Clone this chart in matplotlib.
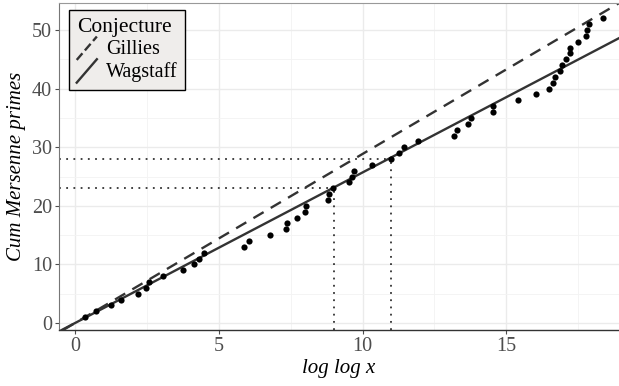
import matplotlib
matplotlib.use('Agg')
import matplotlib.pyplot as plt
from matplotlib.lines import Line2D
from matplotlib.legend_handler import HandlerBase

plt.rcParams['font.family'] = ['Liberation Serif', 'DejaVu Serif']

# log log of each Mersenne prime (x) and cumulative count (y)
loglog_x = [0.33, 0.73, 1.24, 1.58, 2.20, 2.47, 2.58, 3.07, 3.74, 4.12,
            4.31, 4.48, 5.89, 6.04, 6.79, 7.33, 7.37, 7.71, 7.99, 8.03,
            8.81, 8.84, 8.96, 9.53, 9.62, 9.69, 10.34, 11.00, 11.25, 11.43,
            11.92, 13.17, 13.30, 13.68, 13.78, 14.54, 14.55, 15.39, 16.05, 16.49,
            16.63, 16.71, 16.86, 16.93, 17.06, 17.20, 17.21, 17.51, 17.76, 17.80,
            17.86, 18.36]
cum_count = list(range(1, len(loglog_x) + 1))

wagstaff_slope = 2.5695   # e^gamma / ln 2
gillies_slope = 2.8854    # 2 / ln 2

ref_x = [9, 11]
ref_y = [23, 28]

xlim = (-0.56, 18.92)
ylim = (-1.2, 54.6)
dark = '#333333'


class DiagonalHandler(HandlerBase):
    def create_artists(self, legend, orig_handle, xdescent, ydescent,
                       width, height, fontsize, trans):
        x0, y0 = -xdescent, -ydescent
        ln = Line2D([x0, x0 + width],
                    [y0 - 0.25 * height, y0 + 1.15 * height],
                    color=orig_handle.get_color(),
                    linestyle=orig_handle.get_linestyle(),
                    linewidth=orig_handle.get_linewidth(),
                    transform=trans)
        return [ln]


fig = plt.figure(figsize=(6.19, 3.86), dpi=100)
ax = fig.add_axes([0.0953, 0.145, 0.9047, 0.847])

ax.set_xlim(*xlim)
ax.set_ylim(*ylim)

ax.set_xticks([0, 5, 10, 15])
ax.set_xticks([2.5, 7.5, 12.5, 17.5], minor=True)
ax.set_yticks([0, 10, 20, 30, 40, 50])
ax.set_yticks([5, 15, 25, 35, 45], minor=True)
ax.grid(True, which='major', color='#ebebeb', linewidth=1.0)
ax.grid(True, which='minor', color='#f3f3f3', linewidth=0.6)
ax.set_axisbelow(True)

for xv, yv in zip(ref_x, ref_y):
    ax.plot([xlim[0], xv], [yv, yv], linestyle=(0, (1, 3)), color=dark, linewidth=1.3)
    ax.plot([xv, xv], [ylim[0], yv], linestyle=(0, (1, 3)), color=dark, linewidth=1.3)

g = ax.axline((0, 0), slope=gillies_slope, color=dark, linestyle=(0, (5, 3.5)),
              linewidth=1.7, label='Gillies')
w = ax.axline((0, 0), slope=wagstaff_slope, color=dark, linestyle='-',
              linewidth=1.7, label='Wagstaff')

ax.scatter(loglog_x, cum_count, s=20, color='black', zorder=3, linewidths=0)

ax.set_xlabel('log log x', fontsize=15, style='italic', labelpad=2)
ax.set_ylabel('Cum Mersenne primes', fontsize=15, style='italic', labelpad=4)

ax.tick_params(axis='both', which='major', labelsize=14.5, colors='#4d4d4d',
               length=3, width=0.8, pad=2)
ax.tick_params(axis='both', which='minor', length=0)

ax.spines['right'].set_visible(False)
ax.spines['top'].set_color('#999999')
ax.spines['left'].set_color('#777777')
ax.spines['bottom'].set_color('#333333')
ax.spines['bottom'].set_linewidth(1.0)

leg = ax.legend(handles=[g, w], title='Conjecture', loc='upper left',
                bbox_to_anchor=(0.018, 0.979), fontsize=14.5, title_fontsize=15.5,
                handler_map={Line2D: DiagonalHandler()},
                handlelength=1.0, handleheight=0.9, handletextpad=0.45,
                labelspacing=0.12, borderpad=0.38, borderaxespad=0,
                fancybox=False, framealpha=1, edgecolor='black',
                facecolor='#efedeb')
leg.get_frame().set_linewidth(1.0)
leg._legend_box.align = 'left'

fig.savefig('out.png', dpi=100)
plt.close(fig)
